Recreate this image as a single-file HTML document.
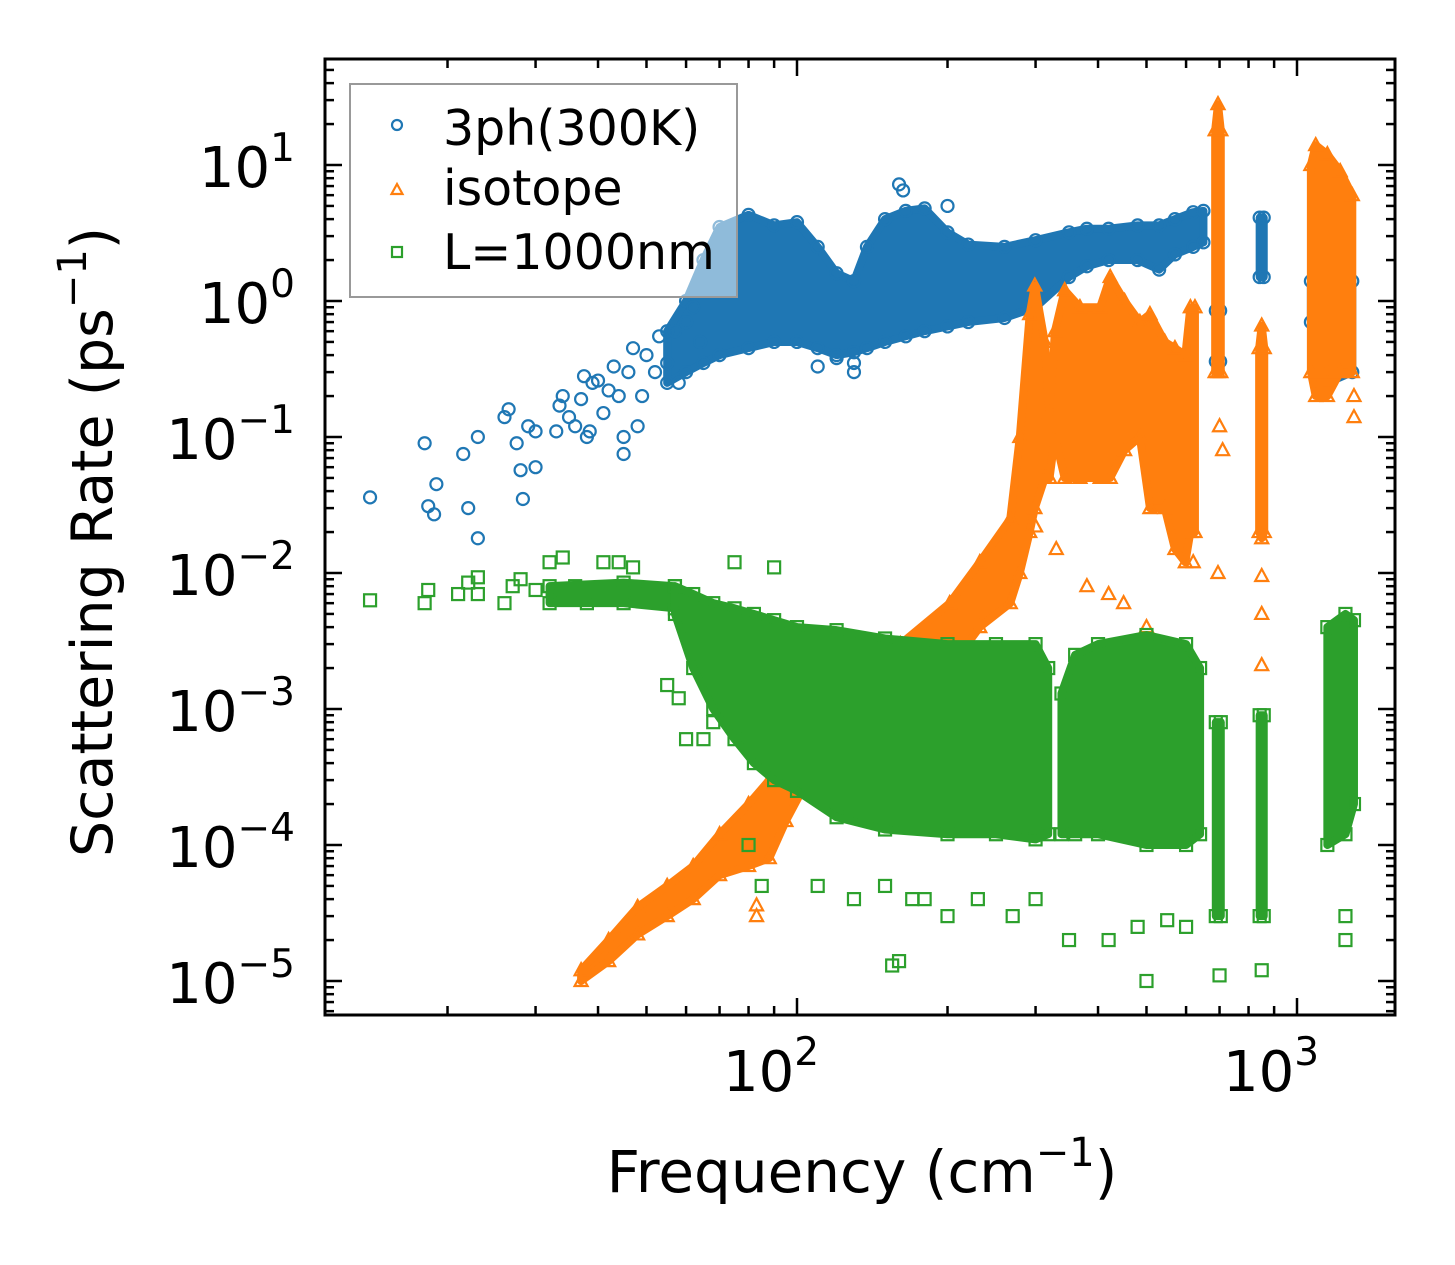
<!DOCTYPE html>
<html><head><meta charset="utf-8"><style>
html,body{margin:0;padding:0;background:#fff;}
svg{display:block;font-family:"DejaVu Sans","Liberation Sans",sans-serif;}
</style></head><body>
<svg id="chart" width="1455" height="1265" viewBox="0 0 1455 1265" xmlns="http://www.w3.org/2000/svg">
<rect width="1455" height="1265" fill="#fff"/>
<g id="marks"></g>
<g id="axes"></g>
</svg>
<script>
// ---- data (frequency cm^-1, rate ps^-1) ----
const blueBandMain = [[55,0.25,0.6],[60,0.3,1],[65,0.35,2],[70,0.4,3.5],[80,0.45,4.3],[90,0.5,3.6],[100,0.5,3.8],[110,0.45,2.5],[120,0.4,1.6],[130,0.42,1.4],[138,0.45,2.5],[150,0.5,4],[165,0.55,4.6],[180,0.6,4.8],[200,0.65,3.2],[220,0.7,2.6],[260,0.75,2.5],[300,0.9,2.8],[350,1.5,3.2],[380,1.8,3.4],[420,2,3.4],[480,2,3.6],[530,1.7,3.6],[570,2.2,4],[620,2.5,4.5],[650,2.7,4.6]];
const blueBand695 = [[688,0.36,0.85],[702,0.36,0.85]];
const blueBand850 = [[842,1.5,4.1],[858,1.5,4.1]];
const blueBand1200 = [[1066,0.7,1.4],[1150,0.25,1.3],[1290,0.3,1.4]];
const blueScatterF = [14,18,18.3,18.8,19,21.5,22,23,23,26,26.5,27.5,28,28.3,29,30,30,33,33.5,34,35,36,37,37.5,38,38.5,39,40,41,42,43,44,45,45,46,47,48,49,50,52,53,55,57,58,60,62,64,110,130,130,160,163,200,120];
const blueScatterV = [0.036,0.09,0.031,0.027,0.045,0.075,0.03,0.1,0.018,0.14,0.16,0.09,0.057,0.035,0.12,0.06,0.11,0.11,0.17,0.2,0.14,0.12,0.19,0.28,0.1,0.11,0.25,0.26,0.15,0.22,0.33,0.2,0.1,0.075,0.3,0.45,0.12,0.2,0.4,0.3,0.55,0.35,0.6,0.25,0.7,0.9,0.5,0.33,0.3,0.35,7.2,6.5,5,0.38];

const orangeBandLow = [[37,1e-5,1.2e-5],[42,1.4e-5,2e-5],[48,2.2e-5,3.5e-5],[55,3e-5,5e-5],[62,4e-5,7e-5],[70,6e-5,1.2e-4],[80,7e-5,2e-4],[88,8e-5,3e-4],[95,1.5e-4,5e-4],[105,3e-4,8e-4],[130,6e-4,1.5e-3]];
const orangeBandMain = [[161,1.4e-3,3e-3],[202,2e-3,6e-3],[232,4e-3,1.2e-2],[267,6e-3,2.5e-2],[279,0.01,0.1],[292,0.02,0.8],[299,0.03,1.3],[313,0.05,0.5],[320,0.05,0.15],[328,0.1,0.6],[343,0.05,1.2],[368,0.05,0.9],[404,0.05,0.9],[423,0.05,1.5],[452,0.08,1.0],[485,0.1,0.7],[508,0.03,0.8],[544,0.03,0.5],[570,0.015,0.45],[598,0.012,0.4],[612,0.02,0.9],[625,0.02,0.9]];
const orangeBand695 = [[686,0.3,18],[695,0.3,28],[704,0.3,18]];
const orangeBand850 = [[840,0.02,0.45],[850,0.018,0.66],[860,0.02,0.45]];
const orangeBand1200 = [[1066,0.3,10],[1090,0.2,14],[1150,0.2,12],[1220,0.3,9],[1290,0.3,6]];
const orangeScatterF = [83,83,695,850,850,850,700,710,1300,1300,380,420,450,500,620,300,330,200,170,1150,1150];
const orangeScatterV = [3e-5,3.6e-5,0.01,0.0095,0.005,0.0021,0.12,0.08,0.14,0.2,0.008,0.007,0.006,0.004,0.012,0.022,0.015,0.0014,0.0013,0.25,0.3];

const greenBandLow = [[32,6e-3,8e-3],[45,6e-3,8.5e-3],[57,5.5e-3,8e-3]];
const greenBandMain = [[57,5e-3,8e-3],[62,2e-3,7e-3],[68,1e-3,6e-3],[75,6e-4,5.5e-3],[82,4e-4,5e-3],[90,3e-4,4.5e-3],[100,2.5e-4,4e-3],[120,1.6e-4,3.8e-3],[150,1.3e-4,3.3e-3],[200,1.2e-4,3e-3],[250,1.2e-4,3e-3],[300,1.1e-4,3e-3],[318,1.2e-4,2e-3]];
const greenBandMid = [[338,1.2e-4,1.3e-3],[360,1.2e-4,2.5e-3],[400,1.2e-4,3e-3],[500,1e-4,3.5e-3],[600,1e-4,3e-3],[640,1.2e-4,2e-3]];
const greenBand695 = [[688,3e-5,8e-4],[704,3e-5,8e-4]];
const greenBand850 = [[842,3e-5,9e-4],[858,3e-5,9e-4]];
const greenBand1200 = [[1150,1e-4,4e-3],[1250,1.2e-4,5e-3],[1300,2e-4,4.5e-3]];
const greenScatterF = [14,18,18.3,21,22,23,23,26,27,28,30,32,34,36,38,41,44,47,50,55,58,60,65,68,80,85,110,130,150,155,160,170,180,200,230,270,300,350,420,480,500,550,600,700,850,1250,1250,75,90];
const greenScatterV = [0.0063,0.006,0.0075,0.007,0.0085,0.0093,0.007,0.006,0.008,0.009,0.0075,0.012,0.013,0.008,0.006,0.012,0.012,0.011,0.0075,0.0015,0.0012,0.0006,0.0006,0.0008,0.0001,0.00005,0.00005,0.00004,0.00005,0.000013,0.000014,0.00004,0.00004,0.00003,0.00004,0.00003,0.00004,0.00002,0.00002,0.000025,0.00001,0.000028,0.000025,0.000011,0.000012,0.00002,0.00003,0.012,0.011];

const yTickExps = [1,0,-1,-2,-3,-4,-5];
const xTickExps = [2,3];

// ---- axes functions ----
const L=325,R=1395,T=59,B=1015;
const X = f => 797 + (Math.log10(f)-2)*500;
const Y = v => 301 - Math.log10(v)*136;
const NS="http://www.w3.org/2000/svg";
const marks=document.getElementById('marks'), axes=document.getElementById('axes');
function mk(tag,attrs,parent){const e=document.createElementNS(NS,tag);for(const k in attrs)e.setAttribute(k,attrs[k]);parent.appendChild(e);return e;}

const C={blue:'#1f77b4',orange:'#ff7f0e',green:'#2ca02c'};
function marker(kind,x,y,color,parent){
  let e;
  if(kind==='o') e=mk('circle',{cx:x,cy:y,r:6,fill:'none',stroke:color,'stroke-width':2.2},parent);
  else if(kind==='^') e=mk('polygon',{points:`${x},${y-7} ${x-6.5},${y+5} ${x+6.5},${y+5}`,fill:'none',stroke:color,'stroke-width':2.2},parent);
  else e=mk('rect',{x:x-6,y:y-6,width:12,height:12,fill:'none',stroke:color,'stroke-width':2.2},parent);
  return e;
}
function band(arr,color,kind,name){
  const top=arr.map(d=>X(d[0])+','+Y(d[2]));
  const bot=arr.slice().reverse().map(d=>X(d[0])+','+Y(d[1]));
  const p=mk('polygon',{points:top.concat(bot).join(' '),fill:color,stroke:color,'stroke-width':8,'stroke-linejoin':'round'},marks);
  
  
  arr.forEach(d=>{
    const a=marker(kind,X(d[0]),Y(d[2]),color,marks);
    
    
    const b=marker(kind,X(d[0]),Y(d[1]),color,marks);
    
    
  });
}
function scatter(fs,vs,kind,color,name){
  fs.forEach((f,i)=>{
    const e=marker(kind,X(f),Y(vs[i]),color,marks);
    
    
  });
}
[blueBandMain,blueBand695,blueBand850,blueBand1200].forEach(b=>band(b,C.blue,'o','3ph-cloud'));
scatter(blueScatterF,blueScatterV,'o',C.blue,'3ph-point');
[orangeBandLow,orangeBandMain,orangeBand695,orangeBand850,orangeBand1200].forEach(b=>band(b,C.orange,'^','isotope-cloud'));
scatter(orangeScatterF,orangeScatterV,'^',C.orange,'isotope-point');
[greenBandLow,greenBandMain,greenBandMid,greenBand695,greenBand850,greenBand1200].forEach(b=>band(b,C.green,'s','boundary-cloud'));
scatter(greenScatterF,greenScatterV,'s',C.green,'boundary-point');

mk('rect',{x:0,y:0,width:1455,height:T,fill:'#fff'},marks);
mk('rect',{x:0,y:B,width:1455,height:1265-B,fill:'#fff'},marks);
mk('rect',{x:0,y:0,width:L,height:1265,fill:'#fff'},marks);
mk('rect',{x:R,y:0,width:60,height:1265,fill:'#fff'},marks);

const fr=mk('rect',{x:L,y:T,width:R-L,height:B-T,fill:'none',stroke:'#000','stroke-width':3},axes);



for(let e=-6;e<=1;e++){
  for(let m=1;m<10;m++){
    const y=Y(m*Math.pow(10,e));
    if(y<T||y>B) continue;
    const len=m===1?17:9;
    mk('line',{x1:L,x2:L+len,y1:y,y2:y,stroke:'#000','stroke-width':2.5},axes);
    mk('line',{x1:R,x2:R-len,y1:y,y2:y,stroke:'#000','stroke-width':2.5},axes);
  }
}
yTickExps.forEach(e=>{
  const t=mk('text',{x:295,y:Y(Math.pow(10,e))+22,'text-anchor':'end','font-size':56},axes);
  
  
  const a=mk('tspan',{},t);a.textContent='10';
  const s=mk('tspan',{dy:-26,'font-size':39},t);s.textContent=e<0?'\u2212'+(-e):String(e);
});
for(let e=1;e<=3;e++){
  for(let m=1;m<10;m++){
    const x=X(m*Math.pow(10,e));
    if(x<L||x>R) continue;
    const len=m===1?17:9;
    mk('line',{x1:x,x2:x,y1:B,y2:B-len,stroke:'#000','stroke-width':2.5},axes);
    mk('line',{x1:x,x2:x,y1:T,y2:T+len,stroke:'#000','stroke-width':2.5},axes);
  }
}
xTickExps.forEach(e=>{
  const t=mk('text',{x:X(Math.pow(10,e))-74,y:1091,'text-anchor':'start','font-size':56},axes);
  
  
  const a=mk('tspan',{},t);a.textContent='10';
  const s=mk('tspan',{dy:-26,'font-size':39},t);s.textContent=String(e);
});
</script>
<svg style="position:absolute;left:0;top:0" width="1455" height="1265" xmlns="http://www.w3.org/2000/svg" font-family="DejaVu Sans, Liberation Sans, sans-serif">
<text x="862" y="1192" text-anchor="middle" font-size="58">Frequency (cm<tspan dy="-26" font-size="40">−1</tspan><tspan dy="26">)</tspan></text>
<text transform="translate(112,542) rotate(-90)" text-anchor="middle" font-size="57">Scattering Rate (ps<tspan dy="-26" font-size="40">−1</tspan><tspan dy="26">)</tspan></text>
<g>
<rect x="350" y="84" width="387" height="213" fill="#fff" fill-opacity="0.5" stroke="#999" stroke-width="2"/>
<circle cx="397" cy="125" r="5" fill="none" stroke="#1f77b4" stroke-width="2.2"/>
<text x="443" y="145" font-size="49">3ph(300K)</text>
<polygon points="397,184 391.5,194 402.5,194" fill="none" stroke="#ff7f0e" stroke-width="2.2"/>
<text x="443" y="205" font-size="49">isotope</text>
<rect x="392" y="247" width="10" height="10" fill="none" stroke="#2ca02c" stroke-width="2.2"/>
<text x="443" y="269" font-size="49">L=1000nm</text>
</g>
</svg>
</body></html>
